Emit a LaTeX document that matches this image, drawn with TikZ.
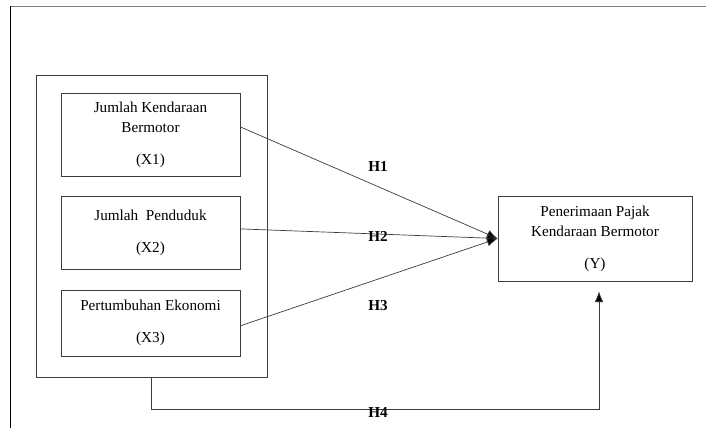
\documentclass[tikz,border=0pt]{standalone}
\usepackage{fontspec}
\setmainfont{Liberation Serif}
\usepackage{tikz}
\usetikzlibrary{arrows.meta, positioning}
\definecolor{lineGray}{RGB}{60,60,60}
\definecolor{frameGray}{RGB}{128,128,128}

\begin{document}
\begin{tikzpicture}[font=\fontsize{10.8}{14.2}\selectfont,
  varbox/.style={draw=lineGray, line width=0.5pt, align=center, inner sep=2pt},
  hyp/.style={-{Latex[length=0.27cm,width=0.22cm,fill=black]}, draw=lineGray, line width=0.5pt},
  hlabel/.style={font=\fontsize{10.8}{13}\selectfont\bfseries}]
\useasboundingbox (0,0) rectangle (17.65,10.7);
% Frame
\draw[frameGray, line width=1.2pt] (0.25,10.54) -- (17.65,10.54);
\draw[black, thin] (0.25,10.54) -- (0.25,0);

% Boxes
\node[varbox, minimum width=5.775cm, minimum height=7.55cm] (outer) at (3.7875,5.05) {};
\node[varbox, minimum width=4.475cm, minimum height=2.075cm] (x1) at (3.7625,7.3375)
  {Jumlah Kendaraan\\Bermotor\\[0.3cm](X1)};
\node[varbox, minimum width=4.475cm, minimum height=1.825cm] (x2) at (3.7625,4.8875)
  {Jumlah\ \ Penduduk\\[0.3cm](X2)};
\node[varbox, minimum width=4.475cm, minimum height=1.65cm] (x3) at (3.7625,2.625)
  {Pertumbuhan Ekonomi\\[0.3cm](X3)};
\node[varbox, minimum width=4.85cm, minimum height=2.125cm] (y) at (14.875,4.7375)
  {Penerimaan Pajak\\Kendaraan Bermotor\\[0.3cm](Y)};

% Hypotheses
\draw[hyp] ([yshift=0.19cm]x1.east) -- (y.west);
\draw[hyp] ([yshift=0.09cm]x2.east) -- (y.west);
\draw[hyp] ([yshift=-0.07cm]x3.east) -- (y.west);
\coordinate (h4end) at ([xshift=0.1cm,yshift=-0.25cm]y.south);
\draw[hyp] (outer.south) -- ++(0,-0.8) -| (h4end);

% Labels
\node[hlabel] (h1) at (9.45,6.54) {H1};
\node[hlabel] (h2) at (9.45,4.8) {H2};
\node[hlabel] (h3) at (9.45,3.05) {H3};
\node[hlabel] (h4) at (9.45,0.4) {H4};
\end{tikzpicture}
\end{document}
